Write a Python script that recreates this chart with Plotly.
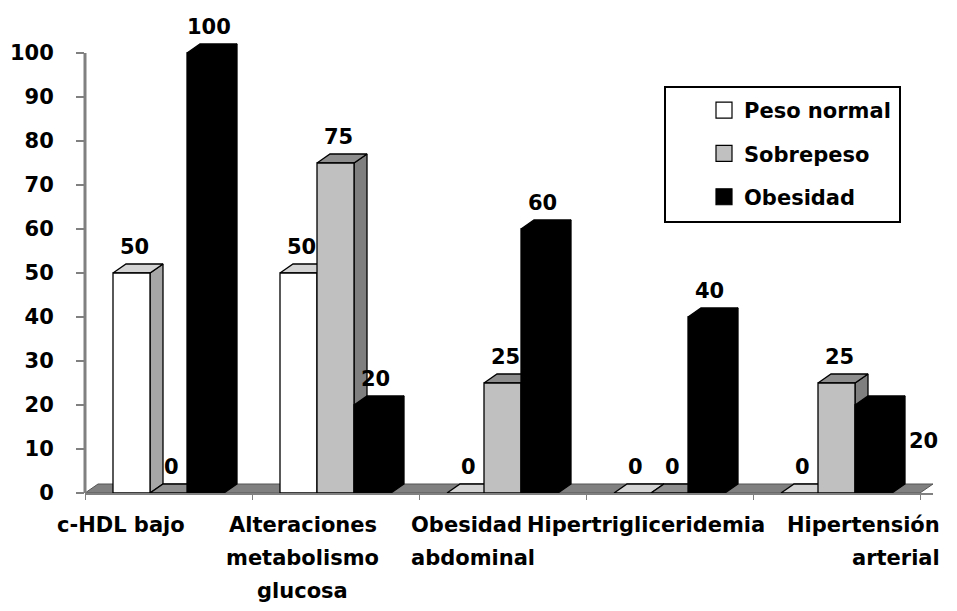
import plotly.graph_objects as go

# ---------------- data ----------------
categories = ["c-HDL bajo", "Alteraciones<br>metabolismo<br>glucosa", "Obesidad<br>abdominal",
              "Hipertrigliceridemia", "Hipertensión<br>arterial"]
series_names = ["Peso normal", "Sobrepeso", "Obesidad"]
peso_normal = [50, 50, 0, 0, 0]
sobrepeso = [0, 75, 25, 0, 25]
obesidad = [100, 20, 60, 40, 20]
y_ticks = [0, 10, 20, 30, 40, 50, 60, 70, 80, 90, 100]

series_values = [peso_normal, sobrepeso, obesidad]

# ---------------- style / geometry ----------------
FONT = "DejaVu Sans"
FS = 21
BODY_OFF = 8                     # browser default body margin
WIN_W, WIN_H = 957, 611
W, H = WIN_W - BODY_OFF, WIN_H - BODY_OFF
PLOT_L, PLOT_R, PLOT_T, PLOT_B = 85, 933, 40, 493   # target screen coords
ML = PLOT_L - BODY_OFF
MR = (BODY_OFF + W) - PLOT_R
MT = PLOT_T - BODY_OFF
MB = (BODY_OFF + H) - PLOT_B
DEPTH_X_PX, DEPTH_Y_PX = 13, 9
BAR_W_PX = 37
Y_PX_PER_UNIT = 4.4

n_cat = len(categories)
plot_w = PLOT_R - PLOT_L
plot_h = PLOT_B - PLOT_T
x_span = n_cat / (1 - DEPTH_X_PX / plot_w)
PX_PER_X = plot_w / x_span
DX = DEPTH_X_PX / PX_PER_X
DY = DEPTH_Y_PX / Y_PX_PER_UNIT
BW = BAR_W_PX / PX_PER_X
x_range = [-0.5, -0.5 + x_span]
y_range = [0, plot_h / Y_PX_PER_UNIT]


def px_to_paper_x(sx):
    return (sx - PLOT_L) / plot_w


def px_to_paper_y(sy):
    return (PLOT_B - sy) / plot_h


face_colors = [
    dict(front="#ffffff", top="#d4d4d4", side="#a6a6a6", line="#000000"),
    dict(front="#c0c0c0", top="#8e8e8e", side="#7f7f7f", line="#000000"),
    dict(front="#000000", top="#000000", side="#000000", line="#000000"),
]
legend_fill = ["#ffffff", "#c0c0c0", "#000000"]
bold = dict(family=FONT, size=FS, color="#000000", weight="bold")

fig = go.Figure()

# floor strip
fx0, fx1 = -0.5, -0.5 + n_cat
fig.add_trace(go.Scatter(
    x=[fx0, fx1, fx1 + DX, fx0 + DX, fx0], y=[0, 0, DY, DY, 0],
    fill="toself", fillcolor="#808080", mode="lines",
    line=dict(color="#555555", width=1), showlegend=False, hoverinfo="skip"))


def poly_trace(xs, ys, color, line_color):
    return go.Scatter(x=xs, y=ys, fill="toself", fillcolor=color, mode="lines",
                      line=dict(color=line_color, width=1.3), showlegend=False,
                      hoverinfo="skip")


for s, vals in enumerate(series_values):
    c = face_colors[s]
    sx, sy, tx, ty, fxs, fys = [], [], [], [], [], []
    for i, v in enumerate(vals):
        x0 = i - 1.5 * BW + s * BW
        x1 = x0 + BW
        sx += [x1, x1 + DX, x1 + DX, x1, x1, None]
        sy += [0, DY, v + DY, v, 0, None]
        tx += [x0, x1, x1 + DX, x0 + DX, x0, None]
        ty += [v, v, v + DY, v + DY, v, None]
        if v > 0:
            fxs += [x0, x1, x1, x0, x0, None]
            fys += [0, 0, v, v, 0, None]
    fig.add_trace(poly_trace(sx, sy, c["side"], c["line"]))
    fig.add_trace(poly_trace(tx, ty, c["top"], c["line"]))
    if fxs:
        fig.add_trace(poly_trace(fxs, fys, c["front"], c["line"]))

# data labels
LABEL_UP_PX = 26
LABEL_SHIFT_PX = 3
RIGHT_SIDE_LABELS = {(2, 4)}
for s, vals in enumerate(series_values):
    for i, v in enumerate(vals):
        x0 = i - 1.5 * BW + s * BW
        x1 = x0 + BW
        if (s, i) in RIGHT_SIDE_LABELS:
            fig.add_annotation(x=x1 + DX, y=v, xref="x", yref="y", text=str(v),
                               showarrow=False, xanchor="left", yanchor="middle",
                               xshift=2, yshift=-36, font=bold)
        else:
            fig.add_annotation(x=x0 + BW / 2, y=v, xref="x", yref="y", text=str(v),
                               showarrow=False, xanchor="center", yanchor="middle",
                               xshift=LABEL_SHIFT_PX, yshift=LABEL_UP_PX, font=bold)

# legend entries
for s, name in enumerate(series_names):
    fig.add_trace(go.Scatter(
        x=[None], y=[None], mode="markers", name=name, legendgroup=name,
        marker=dict(symbol="square", size=16, color=legend_fill[s],
                    line=dict(color="#000000", width=1.2))))

# category labels (one annotation per line for Excel-like line spacing)
label_style = [
    dict(xshift=-48, anchor="center"),
    dict(xshift=-33, anchor="center"),
    dict(xshift=-94, anchor="left"),
    dict(xshift=-24, anchor="center"),
    dict(xshift=105, anchor="right"),
]
LINE_PX = 33
for i, cat in enumerate(categories):
    st = label_style[i]
    for k, line in enumerate(cat.split("<br>")):
        fig.add_annotation(
            x=i, y=0, xref="x", yref="y", text=line, showarrow=False,
            xanchor=st["anchor"], yanchor="middle",
            xshift=st["xshift"], yshift=-(32 + k * LINE_PX), font=bold)

# y axis line (from 0 to 100)
fig.add_shape(type="line", xref="paper", yref="y", x0=0, x1=0, y0=0, y1=max(y_ticks),
              line=dict(color="#808080", width=3))

# legend frame
lg_left, lg_right, lg_top, lg_bot = 665, 900, 87, 222
fig.add_shape(type="rect", xref="paper", yref="paper",
              x0=px_to_paper_x(lg_left), x1=px_to_paper_x(lg_right),
              y0=px_to_paper_y(lg_bot), y1=px_to_paper_y(lg_top),
              line=dict(color="#000000", width=2), fillcolor="rgba(0,0,0,0)")

fig.update_layout(
    width=W, height=H,
    margin=dict(l=ML, r=MR, t=MT, b=MB, autoexpand=False),
    paper_bgcolor="#ffffff", plot_bgcolor="#ffffff",
    showlegend=True,
    legend=dict(x=px_to_paper_x(704), y=px_to_paper_y(90), xanchor="left", yanchor="top",
                bgcolor="rgba(0,0,0,0)", borderwidth=0, tracegroupgap=13,
                font=bold, itemsizing="trace"),
    xaxis=dict(range=x_range, showgrid=False, zeroline=False, showline=True,
               linecolor="#808080", linewidth=2, ticks="outside", ticklen=5,
               tickcolor="#808080", tickwidth=1,
               tickvals=[k - 0.5 for k in range(n_cat + 1)], showticklabels=False,
               fixedrange=True),
    yaxis=dict(range=y_range, showgrid=False, zeroline=False, showline=False,
               ticks="outside", ticklen=8, tickcolor="#808080", tickwidth=2,
               tickvals=y_ticks, ticklabelstandoff=18, tickfont=bold,
               fixedrange=True),
)

fig.write_html("out.html")
